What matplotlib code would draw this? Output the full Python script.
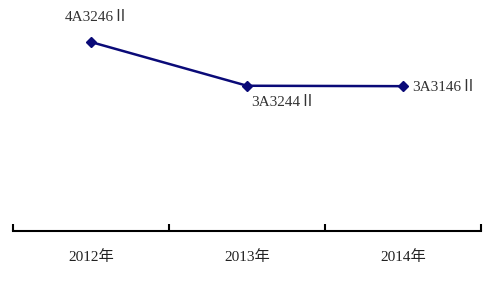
import matplotlib.pyplot as plt

# data
years = ['2012年', '2013年', '2014年']
values = [4.3246, 3.3244, 3.3146]
point_labels = ['4A3246Ⅱ', '3A3244Ⅱ', '3A3146Ⅱ']

font = ['Liberation Serif', 'Noto Sans CJK SC', 'DejaVu Sans']
plt.rcParams['font.family'] = font

fig = plt.figure(figsize=(5, 2.87), dpi=100)
ax = fig.add_axes([0.026, 0.195, 0.936, 0.7614])

xs = [i + 0.5 for i in range(len(years))]
ax.plot(xs, values, color='#0a0a78', lw=1.8, marker='D', ms=5, zorder=3)

# data labels
offsets = [((4.5, 18), 'center'), ((26, -12), 'center'), ((6.5, -1.2), 'left')]
for x, y, lab, (off, ha) in zip(xs, values, point_labels, offsets):
    ax.annotate(lab, (x, y), xytext=off, textcoords='offset points',
                ha=ha, va='center', fontsize=11, color='#333333')

ax.set_xlim(0, 3)
ax.set_ylim(0, 5)

for s in ['left', 'right', 'top']:
    ax.spines[s].set_visible(False)
ax.spines['bottom'].set_linewidth(1.5)
ax.spines['bottom'].set_color('black')

ax.set_yticks([])
ax.set_xticks([0, 1, 2, 3])
ax.set_xticklabels([])
ax.tick_params(axis='x', which='major', direction='in', length=5, width=1.5)
ax.set_xticks(xs, minor=True)
ax.set_xticklabels(years, minor=True, fontsize=11, color='#222222')
ax.tick_params(axis='x', which='minor', length=0, pad=14)

fig.savefig('out.png', dpi=100)
